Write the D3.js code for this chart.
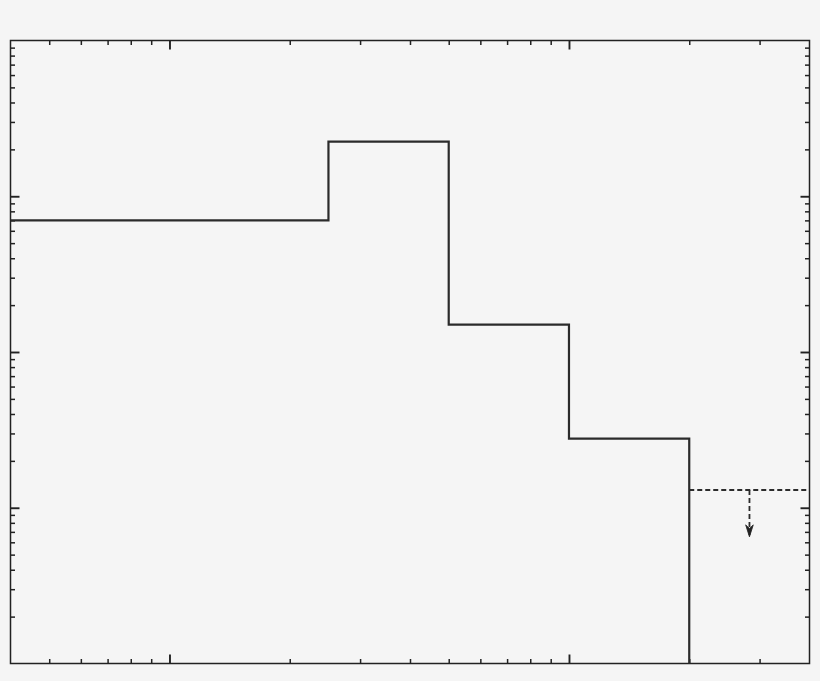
<!DOCTYPE html>
<html>
<head>
<meta charset="utf-8">
<script src="https://cdn.jsdelivr.net/npm/d3@7"></script>
<style>
  html, body { margin: 0; padding: 0; background: #f5f5f5; }
  svg { display: block; }
</style>
</head>
<body>
<svg id="chart" width="820" height="681"></svg>
<script>
// ---- data ----
const xDomain = [0.4, 40];
const yDomain = [1e-3, 10];
const binEdges = [0.4, 2.5, 5, 10, 20];
const binValues = [0.70, 2.24, 0.150, 0.0278];
const limitEdges = [20, 40];
const limitValue = 0.0130;
const limitArrowX = 28.3;
const limitArrowTo = 0.0065;
const xMajorTicks = [1, 10];
const xMinorTicks = [0.5, 0.6, 0.7, 0.8, 0.9, 2, 3, 4, 5, 6, 7, 8, 9, 20, 30];
const yMajorTicks = [0.01, 0.1, 1];
const yMinorTicks = [];
[0.001, 0.01, 0.1, 1].forEach(d => { for (let k = 2; k <= 9; k++) yMinorTicks.push(+(d * k).toPrecision(3)); });

// ---- layout ----
const svg = d3.select("#chart");
const L = 10.5, R = 809.5, T = 40.5, B = 663.5;
const x = d3.scaleLog().domain(xDomain).range([L, R]);
const y = d3.scaleLog().domain(yDomain).range([B, T]).clamp(true);
const ink = "#222";

// frame
svg.append("rect").attr("x", L).attr("y", T).attr("width", R - L).attr("height", B - T)
  .attr("fill", "none").attr("stroke", ink).attr("stroke-width", 1.5);

function addAxis(axisFn, scale, ticks, size, transform, width) {
  const g = svg.append("g").attr("transform", transform)
    .call(axisFn(scale).tickValues(ticks).tickSize(-size).tickFormat(""));
  g.select(".domain").remove();
  g.selectAll(".tick line").attr("stroke", ink).attr("stroke-width", width);
}
// inward ticks on all four sides
addAxis(d3.axisBottom, x, xMajorTicks, 9, `translate(0,${B})`, 1.9);
addAxis(d3.axisBottom, x, xMinorTicks, 4.5, `translate(0,${B})`, 1.5);
addAxis(d3.axisTop, x, xMajorTicks, 9, `translate(0,${T})`, 1.9);
addAxis(d3.axisTop, x, xMinorTicks, 4.5, `translate(0,${T})`, 1.5);
addAxis(d3.axisLeft, y, yMajorTicks, 9, `translate(${L},0)`, 1.9);
addAxis(d3.axisLeft, y, yMinorTicks, 4.5, `translate(${L},0)`, 1.5);
addAxis(d3.axisRight, y, yMajorTicks, 9, `translate(${R},0)`, 1.9);
addAxis(d3.axisRight, y, yMinorTicks, 4.5, `translate(${R},0)`, 1.5);

// solid histogram steps
const pts = [];
binValues.forEach((v, i) => { pts.push([binEdges[i], v]); pts.push([binEdges[i + 1], v]); });
pts.push([binEdges[binEdges.length - 1], yDomain[0]]);
const line = d3.line().x(d => x(d[0])).y(d => y(d[1]));
svg.append("path").attr("d", line(pts)).attr("fill", "none")
  .attr("stroke", "#2b2b2b").attr("stroke-width", 2.2).attr("stroke-linejoin", "miter");

// dashed upper limit
svg.append("path").attr("d", line([[limitEdges[0], limitValue], [limitEdges[1], limitValue]]))
  .attr("fill", "none").attr("stroke", "#2b2b2b").attr("stroke-width", 1.8).attr("stroke-dasharray", "5,3");
const tipY = y(limitArrowTo);
svg.append("path").attr("d", line([[limitArrowX, limitValue], [limitArrowX, limitArrowTo]]))
  .attr("fill", "none").attr("stroke", "#2b2b2b").attr("stroke-width", 1.8).attr("stroke-dasharray", "5,3");
svg.append("path")
  .attr("transform", `translate(${x(limitArrowX)},${tipY})`)
  .attr("d", "M0,0 L-3.8,-12 L0,-8.5 L3.8,-12 Z")
  .attr("fill", "#222").attr("stroke", "#222").attr("stroke-width", 0.8);
</script>
</body>
</html>
